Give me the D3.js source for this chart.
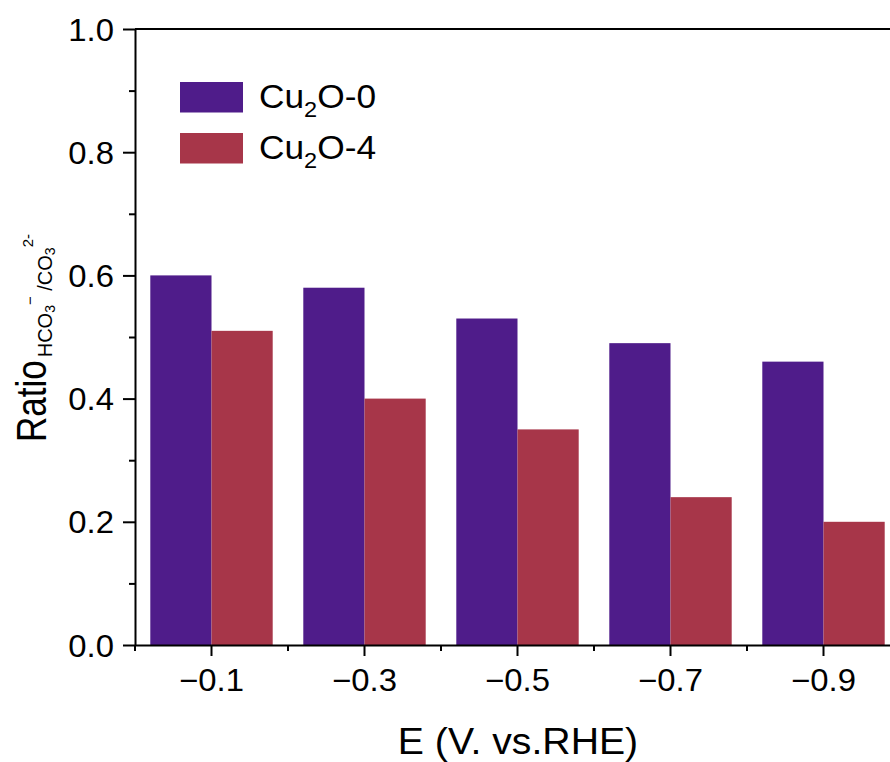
<!DOCTYPE html>
<html>
<head>
<meta charset="utf-8">
<script src="https://cdn.jsdelivr.net/npm/d3@7"></script>
<style>
  html, body { margin: 0; padding: 0; background: #fff; }
  svg { display: block; font-family: 'Liberation Sans', Arial, sans-serif; }
</style>
</head>
<body>
<svg id="chart"></svg>
<script>
// data
const categories = ['\u22120.1', '\u22120.3', '\u22120.5', '\u22120.7', '\u22120.9']
const seriesNames = ['Cu2O-0', 'Cu2O-4']
const cu2o0 = [0.60, 0.58, 0.53, 0.49, 0.46]
const cu2o4 = [0.51, 0.40, 0.35, 0.24, 0.20]
const yTicks = [0, 0.2, 0.4, 0.6, 0.8, 1.0]
const yMinorTicks = [0.1, 0.3, 0.5, 0.7, 0.9]
const colors = ['#4f1c8a', '#a73649']

const W = 890, H = 762
const plotLeft = 135, plotRight = 900, plotTop = 29, plotBottom = 645
const sx = 1.06 // glyphs in the source are a bit wide

let svg = d3.select('#chart')
.attr('width', W)
.attr('height', H)

svg.append('rect').attr('width', W).attr('height', H).attr('fill', '#fff')

let x = d3.scaleBand()
.domain(categories)
.range([plotLeft, plotRight])
.paddingInner(0.2)
.paddingOuter(0.1)

let xs = d3.scaleBand()
.domain(seriesNames)
.range([0, x.bandwidth()])

let y = d3.scaleLinear()
.domain([0, 1])
.range([plotBottom, plotTop])

let rows = categories.map((c, i) => ({cat: c, values: [cu2o0[i], cu2o4[i]]}))

// bars
let groups = svg.selectAll('g.cat')
.data(rows)
.enter()
.append('g')
.attr('class', 'cat')
.attr('transform', (d) => `translate(${x(d.cat)},0)`)

groups.selectAll('rect')
.data((d) => d.values.map((v, j) => ({name: seriesNames[j], v: v, j: j})))
.enter()
.append('rect')
.attr('x', (d) => xs(d.name))
.attr('width', xs.bandwidth())
.attr('y', (d) => y(d.v))
.attr('height', (d) => y(0) - y(d.v))
.attr('fill', (d) => colors[d.j])

// y axis
let yAxis = svg.append('g')
.attr('transform', `translate(${plotLeft},0)`)
.call(d3.axisLeft(y).tickValues(yTicks).tickFormat(d3.format('.1f')).tickSize(12).tickSizeOuter(0))

yAxis.select('.domain').attr('stroke-width', 2)
yAxis.selectAll('.tick line').attr('stroke-width', 2)
yAxis.selectAll('.tick text')
.attr('x', 0)
.attr('dy', '0.36em')
.attr('transform', `translate(-21,0) scale(${sx},1)`)
.style('font-size', '31px')
.attr('fill', '#000')

svg.append('g')
.attr('transform', `translate(${plotLeft},0)`)
.call(d3.axisLeft(y).tickValues(yMinorTicks).tickFormat('').tickSize(6).tickSizeOuter(0))
.call((g) => g.select('.domain').remove())
.selectAll('.tick line').attr('stroke-width', 2)

// x axis
let xAxis = svg.append('g')
.attr('transform', `translate(0,${plotBottom})`)
.call(d3.axisBottom(x).tickSize(11).tickSizeOuter(0))

xAxis.select('.domain').attr('stroke-width', 2)
xAxis.selectAll('.tick line').attr('stroke-width', 2)
xAxis.selectAll('.tick text')
.attr('y', 0)
.attr('dy', 0)
.attr('transform', `translate(0,46) scale(${sx},1)`)
.style('font-size', '31px')
.attr('fill', '#000')

// minor ticks on the band edges
let edges = categories.map((c) => x(c) - x.step() * x.paddingInner() / 2)
edges[0] = plotLeft
svg.append('g')
.selectAll('line')
.data(edges)
.enter()
.append('line')
.attr('x1', (d) => d)
.attr('x2', (d) => d)
.attr('y1', plotBottom)
.attr('y2', plotBottom + 6)
.attr('stroke', '#000')
.attr('stroke-width', 2)

// top frame line
svg.append('line')
.attr('x1', plotLeft)
.attr('x2', plotRight)
.attr('y1', plotTop)
.attr('y2', plotTop)
.attr('stroke', '#000')
.attr('stroke-width', 2)

// legend
let legend = svg.append('g')
legend.selectAll('rect')
.data(seriesNames)
.enter()
.append('rect')
.attr('x', 180)
.attr('y', (d, i) => 82 + 51 * i)
.attr('width', 63)
.attr('height', 30.5)
.attr('fill', (d, i) => colors[i])

let lt = legend.selectAll('text')
.data(seriesNames)
.enter()
.append('text')
.attr('transform', (d, i) => `translate(259,${108 + 51 * i}) scale(1.07,1)`)
.style('font-size', '33px')
.attr('fill', '#000')
lt.append('tspan').text('Cu')
lt.append('tspan').text('2').style('font-size', '22px').attr('dy', 9)
lt.append('tspan').text((d) => d.slice(3)).attr('dy', -9)

// axis titles
svg.append('text')
.attr('transform', `translate(518,754) scale(${sx},1)`)
.attr('text-anchor', 'middle')
.style('font-size', '37px')
.attr('fill', '#000')
.text('E (V. vs.RHE)')

let ratio = svg.append('text')
.attr('transform', 'translate(46,442) rotate(-90) scale(1,1.22)')
.style('font-size', '35px')
.attr('fill', '#000')
.text('Ratio')
let ratioLen = ratio.node().getComputedTextLength()

let yt = svg.append('text')
.attr('transform', `translate(46,${442 - ratioLen - 3}) rotate(-90)`)
.style('font-size', '20px')
.attr('fill', '#000')
yt.append('tspan').text('HCO').attr('dy', 6)
yt.append('tspan').text('3').style('font-size', '14px').attr('dy', 3)
yt.append('tspan').text('\u2212').style('font-size', '15px').attr('dy', -20)
yt.append('tspan').text(' /CO').attr('dy', 17)
yt.append('tspan').text('3').style('font-size', '14px').attr('dy', 3)
yt.append('tspan').text('2-').style('font-size', '15px').attr('dy', -22)
</script>
</body>
</html>
